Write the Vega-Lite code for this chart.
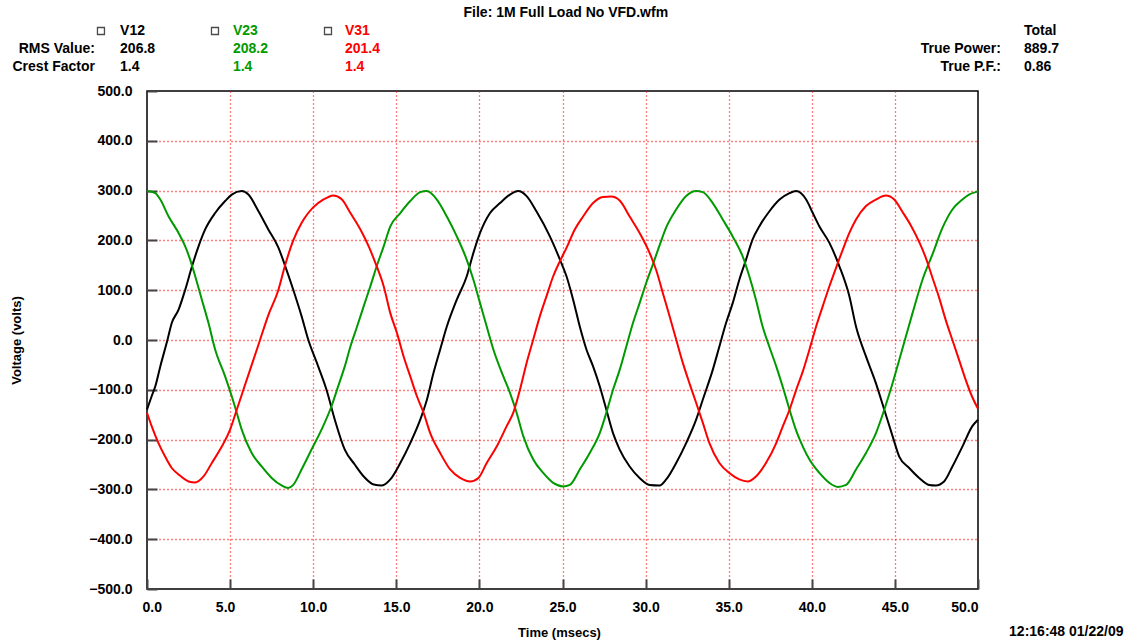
{
  "$schema": "https://vega.github.io/schema/vega-lite/v6.json",
  "autosize": "none",
  "width": 831,
  "height": 498,
  "padding": {"left": 147, "top": 91, "right": 162, "bottom": 51},
  "background": "#ffffff",
  "config": {
    "view": {"stroke": "#000000", "strokeWidth": 1.5},
    "font": "Liberation Sans",
    "axis": {
      "domain": false,
      "grid": true,
      "gridColor": "#ff0000",
      "gridDash": [1, 3],
      "gridWidth": 1.3,
      "tickColor": "#444444",
      "tickWidth": 2,
      "tickSize": -10,
      "labelFont": "Liberation Sans",
      "labelFontSize": 14,
      "labelFontWeight": "bold",
      "labelColor": "#000000",
      "titleFont": "Liberation Sans",
      "titleFontSize": 13,
      "titleFontWeight": "bold",
      "titleColor": "#000000"
    }
  },
  "datasets": {
    "waves": [
      {"t":0,"v":-140,"s":"V12"},{"t":0.28,"v":-113,"s":"V12"},{"t":0.5,"v":-93,"s":"V12"},{"t":0.8,"v":-53,"s":"V12"},{"t":1.23,"v":0,"s":"V12"},{"t":1.49,"v":34,"s":"V12"},{"t":1.9,"v":61,"s":"V12"},{"t":2.3,"v":101,"s":"V12"},{"t":2.7,"v":147,"s":"V12"},{"t":3.1,"v":188,"s":"V12"},{"t":3.5,"v":222,"s":"V12"},{"t":4.1,"v":255,"s":"V12"},{"t":4.7,"v":279,"s":"V12"},{"t":5.1,"v":292,"s":"V12"},{"t":5.7,"v":299,"s":"V12"},{"t":6.1,"v":292,"s":"V12"},{"t":6.7,"v":259,"s":"V12"},{"t":7.3,"v":222,"s":"V12"},{"t":7.9,"v":186,"s":"V12"},{"t":8.3,"v":150,"s":"V12"},{"t":8.8,"v":101,"s":"V12"},{"t":9.3,"v":48,"s":"V12"},{"t":9.7,"v":1,"s":"V12"},{"t":10.3,"v":-53,"s":"V12"},{"t":10.8,"v":-100,"s":"V12"},{"t":11.3,"v":-160,"s":"V12"},{"t":11.9,"v":-220,"s":"V12"},{"t":12.5,"v":-250,"s":"V12"},{"t":13.04,"v":-274,"s":"V12"},{"t":13.64,"v":-290,"s":"V12"},{"t":14.14,"v":-292,"s":"V12"},{"t":14.64,"v":-280,"s":"V12"},{"t":15.24,"v":-247,"s":"V12"},{"t":15.84,"v":-207,"s":"V12"},{"t":16.44,"v":-160,"s":"V12"},{"t":16.84,"v":-120,"s":"V12"},{"t":17.24,"v":-66,"s":"V12"},{"t":17.64,"v":-19,"s":"V12"},{"t":18.04,"v":27,"s":"V12"},{"t":18.64,"v":81,"s":"V12"},{"t":19.24,"v":128,"s":"V12"},{"t":19.64,"v":175,"s":"V12"},{"t":20.04,"v":215,"s":"V12"},{"t":20.64,"v":255,"s":"V12"},{"t":21.24,"v":275,"s":"V12"},{"t":21.84,"v":292,"s":"V12"},{"t":22.34,"v":299,"s":"V12"},{"t":22.84,"v":289,"s":"V12"},{"t":23.44,"v":258,"s":"V12"},{"t":24.24,"v":208,"s":"V12"},{"t":24.84,"v":162,"s":"V12"},{"t":25.24,"v":128,"s":"V12"},{"t":25.64,"v":81,"s":"V12"},{"t":26.04,"v":27,"s":"V12"},{"t":26.44,"v":-19,"s":"V12"},{"t":26.84,"v":-53,"s":"V12"},{"t":27.24,"v":-93,"s":"V12"},{"t":27.64,"v":-140,"s":"V12"},{"t":28.04,"v":-187,"s":"V12"},{"t":28.44,"v":-220,"s":"V12"},{"t":29.04,"v":-254,"s":"V12"},{"t":29.64,"v":-277,"s":"V12"},{"t":30.24,"v":-291,"s":"V12"},{"t":30.84,"v":-292,"s":"V12"},{"t":31.24,"v":-280,"s":"V12"},{"t":31.84,"v":-247,"s":"V12"},{"t":32.44,"v":-207,"s":"V12"},{"t":33.04,"v":-160,"s":"V12"},{"t":33.44,"v":-120,"s":"V12"},{"t":34.04,"v":-60,"s":"V12"},{"t":34.44,"v":-13,"s":"V12"},{"t":34.84,"v":34,"s":"V12"},{"t":35.24,"v":74,"s":"V12"},{"t":35.64,"v":121,"s":"V12"},{"t":36.04,"v":161,"s":"V12"},{"t":36.44,"v":202,"s":"V12"},{"t":36.84,"v":228,"s":"V12"},{"t":37.44,"v":258,"s":"V12"},{"t":38.06,"v":282,"s":"V12"},{"t":38.66,"v":295,"s":"V12"},{"t":39.06,"v":299,"s":"V12"},{"t":39.66,"v":282,"s":"V12"},{"t":40.06,"v":255,"s":"V12"},{"t":40.46,"v":228,"s":"V12"},{"t":41.06,"v":195,"s":"V12"},{"t":41.66,"v":148,"s":"V12"},{"t":42.26,"v":88,"s":"V12"},{"t":42.66,"v":27,"s":"V12"},{"t":43.26,"v":-33,"s":"V12"},{"t":43.86,"v":-87,"s":"V12"},{"t":44.36,"v":-140,"s":"V12"},{"t":44.86,"v":-193,"s":"V12"},{"t":45.26,"v":-234,"s":"V12"},{"t":45.86,"v":-257,"s":"V12"},{"t":46.46,"v":-277,"s":"V12"},{"t":47.06,"v":-291,"s":"V12"},{"t":47.46,"v":-292,"s":"V12"},{"t":47.96,"v":-284,"s":"V12"},{"t":48.46,"v":-254,"s":"V12"},{"t":49.06,"v":-214,"s":"V12"},{"t":49.66,"v":-173,"s":"V12"},{"t":50,"v":-160,"s":"V12"},
      {"t":0,"v":299,"s":"V23"},{"t":0.5,"v":295,"s":"V23"},{"t":0.8,"v":282,"s":"V23"},{"t":1.3,"v":248,"s":"V23"},{"t":1.9,"v":215,"s":"V23"},{"t":2.3,"v":188,"s":"V23"},{"t":2.6,"v":161,"s":"V23"},{"t":2.9,"v":128,"s":"V23"},{"t":3.3,"v":81,"s":"V23"},{"t":3.7,"v":34,"s":"V23"},{"t":4.1,"v":-19,"s":"V23"},{"t":4.7,"v":-73,"s":"V23"},{"t":5.1,"v":-113,"s":"V23"},{"t":5.4,"v":-146,"s":"V23"},{"t":5.7,"v":-180,"s":"V23"},{"t":6.3,"v":-227,"s":"V23"},{"t":6.9,"v":-254,"s":"V23"},{"t":7.5,"v":-277,"s":"V23"},{"t":8.1,"v":-292,"s":"V23"},{"t":8.5,"v":-297,"s":"V23"},{"t":8.8,"v":-291,"s":"V23"},{"t":9.3,"v":-260,"s":"V23"},{"t":9.9,"v":-220,"s":"V23"},{"t":10.5,"v":-180,"s":"V23"},{"t":11.1,"v":-133,"s":"V23"},{"t":11.5,"v":-93,"s":"V23"},{"t":11.9,"v":-53,"s":"V23"},{"t":12.24,"v":-13,"s":"V23"},{"t":12.64,"v":27,"s":"V23"},{"t":13.04,"v":68,"s":"V23"},{"t":13.44,"v":108,"s":"V23"},{"t":13.84,"v":150,"s":"V23"},{"t":14.24,"v":188,"s":"V23"},{"t":14.64,"v":228,"s":"V23"},{"t":15.24,"v":255,"s":"V23"},{"t":15.84,"v":279,"s":"V23"},{"t":16.44,"v":297,"s":"V23"},{"t":16.84,"v":299,"s":"V23"},{"t":17.44,"v":282,"s":"V23"},{"t":18.04,"v":248,"s":"V23"},{"t":18.64,"v":208,"s":"V23"},{"t":19.24,"v":161,"s":"V23"},{"t":19.64,"v":121,"s":"V23"},{"t":20.04,"v":74,"s":"V23"},{"t":20.44,"v":27,"s":"V23"},{"t":20.84,"v":-19,"s":"V23"},{"t":21.44,"v":-73,"s":"V23"},{"t":21.84,"v":-106,"s":"V23"},{"t":22.24,"v":-146,"s":"V23"},{"t":22.64,"v":-193,"s":"V23"},{"t":23.24,"v":-240,"s":"V23"},{"t":23.84,"v":-267,"s":"V23"},{"t":24.44,"v":-287,"s":"V23"},{"t":25.04,"v":-294,"s":"V23"},{"t":25.44,"v":-291,"s":"V23"},{"t":26.04,"v":-260,"s":"V23"},{"t":26.64,"v":-227,"s":"V23"},{"t":27.24,"v":-187,"s":"V23"},{"t":27.64,"v":-146,"s":"V23"},{"t":28.04,"v":-100,"s":"V23"},{"t":28.44,"v":-60,"s":"V23"},{"t":28.84,"v":-13,"s":"V23"},{"t":29.24,"v":34,"s":"V23"},{"t":29.64,"v":74,"s":"V23"},{"t":30.04,"v":115,"s":"V23"},{"t":30.44,"v":152,"s":"V23"},{"t":30.84,"v":190,"s":"V23"},{"t":31.24,"v":226,"s":"V23"},{"t":31.84,"v":262,"s":"V23"},{"t":32.44,"v":289,"s":"V23"},{"t":33.04,"v":299,"s":"V23"},{"t":33.44,"v":297,"s":"V23"},{"t":34.04,"v":275,"s":"V23"},{"t":34.64,"v":242,"s":"V23"},{"t":35.24,"v":208,"s":"V23"},{"t":35.84,"v":168,"s":"V23"},{"t":36.24,"v":128,"s":"V23"},{"t":36.64,"v":81,"s":"V23"},{"t":37.04,"v":27,"s":"V23"},{"t":37.44,"v":-13,"s":"V23"},{"t":37.86,"v":-53,"s":"V23"},{"t":38.36,"v":-106,"s":"V23"},{"t":38.66,"v":-140,"s":"V23"},{"t":39.06,"v":-182,"s":"V23"},{"t":39.46,"v":-214,"s":"V23"},{"t":39.86,"v":-240,"s":"V23"},{"t":40.46,"v":-267,"s":"V23"},{"t":41.06,"v":-287,"s":"V23"},{"t":41.56,"v":-295,"s":"V23"},{"t":42.06,"v":-291,"s":"V23"},{"t":42.66,"v":-260,"s":"V23"},{"t":43.26,"v":-227,"s":"V23"},{"t":43.86,"v":-187,"s":"V23"},{"t":44.36,"v":-140,"s":"V23"},{"t":44.86,"v":-87,"s":"V23"},{"t":45.26,"v":-40,"s":"V23"},{"t":45.66,"v":7,"s":"V23"},{"t":46.06,"v":54,"s":"V23"},{"t":46.66,"v":121,"s":"V23"},{"t":47.26,"v":172,"s":"V23"},{"t":47.86,"v":225,"s":"V23"},{"t":48.46,"v":262,"s":"V23"},{"t":49.06,"v":282,"s":"V23"},{"t":49.46,"v":292,"s":"V23"},{"t":49.86,"v":297,"s":"V23"},{"t":50,"v":298,"s":"V23"},
      {"t":0,"v":-146,"s":"V31"},{"t":0.28,"v":-173,"s":"V31"},{"t":0.69,"v":-207,"s":"V31"},{"t":1.09,"v":-234,"s":"V31"},{"t":1.49,"v":-257,"s":"V31"},{"t":1.9,"v":-270,"s":"V31"},{"t":2.5,"v":-284,"s":"V31"},{"t":2.9,"v":-286,"s":"V31"},{"t":3.4,"v":-274,"s":"V31"},{"t":3.9,"v":-247,"s":"V31"},{"t":4.5,"v":-214,"s":"V31"},{"t":5.0,"v":-180,"s":"V31"},{"t":5.4,"v":-140,"s":"V31"},{"t":5.8,"v":-100,"s":"V31"},{"t":6.3,"v":-50,"s":"V31"},{"t":6.8,"v":0,"s":"V31"},{"t":7.3,"v":50,"s":"V31"},{"t":7.9,"v":100,"s":"V31"},{"t":8.3,"v":149,"s":"V31"},{"t":8.8,"v":200,"s":"V31"},{"t":9.3,"v":235,"s":"V31"},{"t":9.7,"v":255,"s":"V31"},{"t":10.3,"v":275,"s":"V31"},{"t":10.9,"v":287,"s":"V31"},{"t":11.2,"v":290,"s":"V31"},{"t":11.7,"v":283,"s":"V31"},{"t":12.24,"v":255,"s":"V31"},{"t":12.84,"v":222,"s":"V31"},{"t":13.34,"v":188,"s":"V31"},{"t":13.74,"v":155,"s":"V31"},{"t":14.24,"v":108,"s":"V31"},{"t":14.64,"v":54,"s":"V31"},{"t":15.04,"v":14,"s":"V31"},{"t":15.44,"v":-33,"s":"V31"},{"t":15.84,"v":-73,"s":"V31"},{"t":16.24,"v":-113,"s":"V31"},{"t":16.64,"v":-146,"s":"V31"},{"t":17.04,"v":-187,"s":"V31"},{"t":17.64,"v":-227,"s":"V31"},{"t":18.24,"v":-260,"s":"V31"},{"t":18.84,"v":-277,"s":"V31"},{"t":19.44,"v":-284,"s":"V31"},{"t":19.94,"v":-277,"s":"V31"},{"t":20.44,"v":-247,"s":"V31"},{"t":21.04,"v":-214,"s":"V31"},{"t":21.64,"v":-173,"s":"V31"},{"t":22.04,"v":-146,"s":"V31"},{"t":22.44,"v":-100,"s":"V31"},{"t":22.84,"v":-46,"s":"V31"},{"t":23.24,"v":1,"s":"V31"},{"t":23.64,"v":48,"s":"V31"},{"t":24.04,"v":88,"s":"V31"},{"t":24.44,"v":128,"s":"V31"},{"t":24.84,"v":158,"s":"V31"},{"t":25.24,"v":185,"s":"V31"},{"t":25.74,"v":222,"s":"V31"},{"t":26.24,"v":248,"s":"V31"},{"t":26.84,"v":275,"s":"V31"},{"t":27.44,"v":287,"s":"V31"},{"t":27.94,"v":288,"s":"V31"},{"t":28.44,"v":280,"s":"V31"},{"t":29.04,"v":248,"s":"V31"},{"t":29.64,"v":215,"s":"V31"},{"t":30.24,"v":175,"s":"V31"},{"t":30.64,"v":140,"s":"V31"},{"t":31.04,"v":94,"s":"V31"},{"t":31.44,"v":48,"s":"V31"},{"t":31.84,"v":1,"s":"V31"},{"t":32.24,"v":-46,"s":"V31"},{"t":32.64,"v":-87,"s":"V31"},{"t":33.04,"v":-126,"s":"V31"},{"t":33.44,"v":-166,"s":"V31"},{"t":33.84,"v":-207,"s":"V31"},{"t":34.44,"v":-247,"s":"V31"},{"t":35.04,"v":-267,"s":"V31"},{"t":35.64,"v":-280,"s":"V31"},{"t":36.14,"v":-284,"s":"V31"},{"t":36.64,"v":-274,"s":"V31"},{"t":37.24,"v":-247,"s":"V31"},{"t":37.86,"v":-207,"s":"V31"},{"t":38.26,"v":-173,"s":"V31"},{"t":38.66,"v":-140,"s":"V31"},{"t":39.06,"v":-100,"s":"V31"},{"t":39.46,"v":-63,"s":"V31"},{"t":39.86,"v":-19,"s":"V31"},{"t":40.26,"v":27,"s":"V31"},{"t":40.66,"v":68,"s":"V31"},{"t":41.06,"v":108,"s":"V31"},{"t":41.46,"v":145,"s":"V31"},{"t":41.86,"v":181,"s":"V31"},{"t":42.26,"v":215,"s":"V31"},{"t":42.66,"v":242,"s":"V31"},{"t":43.26,"v":269,"s":"V31"},{"t":43.86,"v":282,"s":"V31"},{"t":44.46,"v":290,"s":"V31"},{"t":44.96,"v":282,"s":"V31"},{"t":45.46,"v":257,"s":"V31"},{"t":45.96,"v":230,"s":"V31"},{"t":46.46,"v":197,"s":"V31"},{"t":46.86,"v":165,"s":"V31"},{"t":47.26,"v":125,"s":"V31"},{"t":47.66,"v":85,"s":"V31"},{"t":48.06,"v":40,"s":"V31"},{"t":48.46,"v":0,"s":"V31"},{"t":48.86,"v":-40,"s":"V31"},{"t":49.26,"v":-80,"s":"V31"},{"t":49.66,"v":-115,"s":"V31"},{"t":50,"v":-138,"s":"V31"}
    ],
    "header": [
      {"t":25.2,"v":656,"text":"File: 1M Full Load No VFD.wfm","s":"lbl","role":"title"},
      {"t":-2.77,"v":620.5,"text":"","s":"V12","role":"box"},
      {"t":4.09,"v":620.5,"text":"","s":"V23","role":"box"},
      {"t":10.89,"v":620.5,"text":"","s":"V31","role":"box"},
      {"t":-1.62,"v":620.5,"text":"V12","s":"V12","role":"value"},
      {"t":5.17,"v":620.5,"text":"V23","s":"V23","role":"value"},
      {"t":11.91,"v":620.5,"text":"V31","s":"V31","role":"value"},
      {"t":-3.13,"v":584.3,"text":"RMS Value:","s":"lbl","role":"label"},
      {"t":-1.62,"v":584.3,"text":"206.8","s":"V12","role":"value"},
      {"t":5.17,"v":584.3,"text":"208.2","s":"V23","role":"value"},
      {"t":11.91,"v":584.3,"text":"201.4","s":"V31","role":"value"},
      {"t":-3.13,"v":548.2,"text":"Crest Factor","s":"lbl","role":"label"},
      {"t":-1.62,"v":548.2,"text":"1.4","s":"V12","role":"value"},
      {"t":5.17,"v":548.2,"text":"1.4","s":"V23","role":"value"},
      {"t":11.91,"v":548.2,"text":"1.4","s":"V31","role":"value"},
      {"t":52.77,"v":620.5,"text":"Total","s":"lbl","role":"value"},
      {"t":51.38,"v":584.3,"text":"True Power:","s":"lbl","role":"label"},
      {"t":52.77,"v":584.3,"text":"889.7","s":"lbl","role":"value"},
      {"t":51.38,"v":548.2,"text":"True P.F.:","s":"lbl","role":"label"},
      {"t":52.77,"v":548.2,"text":"0.86","s":"lbl","role":"value"},
      {"t":51.87,"v":-586.3,"text":"12:16:48 01/22/09","s":"lbl","role":"value"}
    ]
  },
  "encoding": {
    "x": {
      "field": "t", "type": "quantitative",
      "scale": {"domain": [0, 50], "nice": false, "zero": false},
      "axis": {
        "title": "Time (msecs)",
        "values": [0, 5, 10, 15, 20, 25, 30, 35, 40, 45, 50],
        "format": ".1f",
        "labelPadding": 21,
        "labelOffset": {"condition": {"test": "datum.value < 10", "value": -5}, "value": 0},
        "gridOpacity": {"condition": {"test": "datum.value == 0 || datum.value == 50", "value": 0}, "value": 1},
        "titleX": 412,
        "titleY": 43,
        "titleBaseline": "middle"
      }
    },
    "y": {
      "field": "v", "type": "quantitative",
      "scale": {"domain": [-500, 500], "nice": false, "zero": false},
      "axis": {
        "title": "Voltage (volts)",
        "values": [-500, -400, -300, -200, -100, 0, 100, 200, 300, 400, 500],
        "format": ".1f",
        "labelPadding": 25,
        "gridOpacity": {"condition": {"test": "abs(datum.value) == 500", "value": 0}, "value": 1},
        "titleX": -131,
        "titleY": 249,
        "titleBaseline": "middle"
      }
    },
    "color": {
      "field": "s", "type": "nominal",
      "scale": {"domain": ["V12", "V23", "V31", "lbl"], "range": ["#000000", "#009a00", "#ff0000", "#000000"]},
      "legend": null
    }
  },
  "layer": [
    {
      "data": {"name": "waves"},
      "mark": {"type": "line", "strokeWidth": 2, "interpolate": "monotone"},
      "encoding": {"order": {"field": "t", "type": "quantitative"}}
    },
    {
      "data": {"name": "header"},
      "transform": [{"filter": "datum.role == 'box'"}],
      "mark": {"type": "point", "shape": "square", "size": 49, "filled": false, "stroke": "#000000", "strokeWidth": 1.3, "clip": false},
      "encoding": {"color": {"value": "#000000"}}
    },
    {
      "data": {"name": "header"},
      "transform": [{"filter": "datum.role == 'value'"}],
      "mark": {"type": "text", "align": "left", "baseline": "middle", "fontSize": 14, "fontWeight": "bold", "font": "Liberation Sans", "clip": false},
      "encoding": {"text": {"field": "text"}}
    },
    {
      "data": {"name": "header"},
      "transform": [{"filter": "datum.role == 'label'"}],
      "mark": {"type": "text", "align": "right", "baseline": "middle", "fontSize": 14, "fontWeight": "bold", "font": "Liberation Sans", "clip": false},
      "encoding": {"text": {"field": "text"}}
    },
    {
      "data": {"name": "header"},
      "transform": [{"filter": "datum.role == 'title'"}],
      "mark": {"type": "text", "align": "center", "baseline": "middle", "fontSize": 14, "fontWeight": "bold", "font": "Liberation Sans", "clip": false},
      "encoding": {"text": {"field": "text"}}
    }
  ]
}
